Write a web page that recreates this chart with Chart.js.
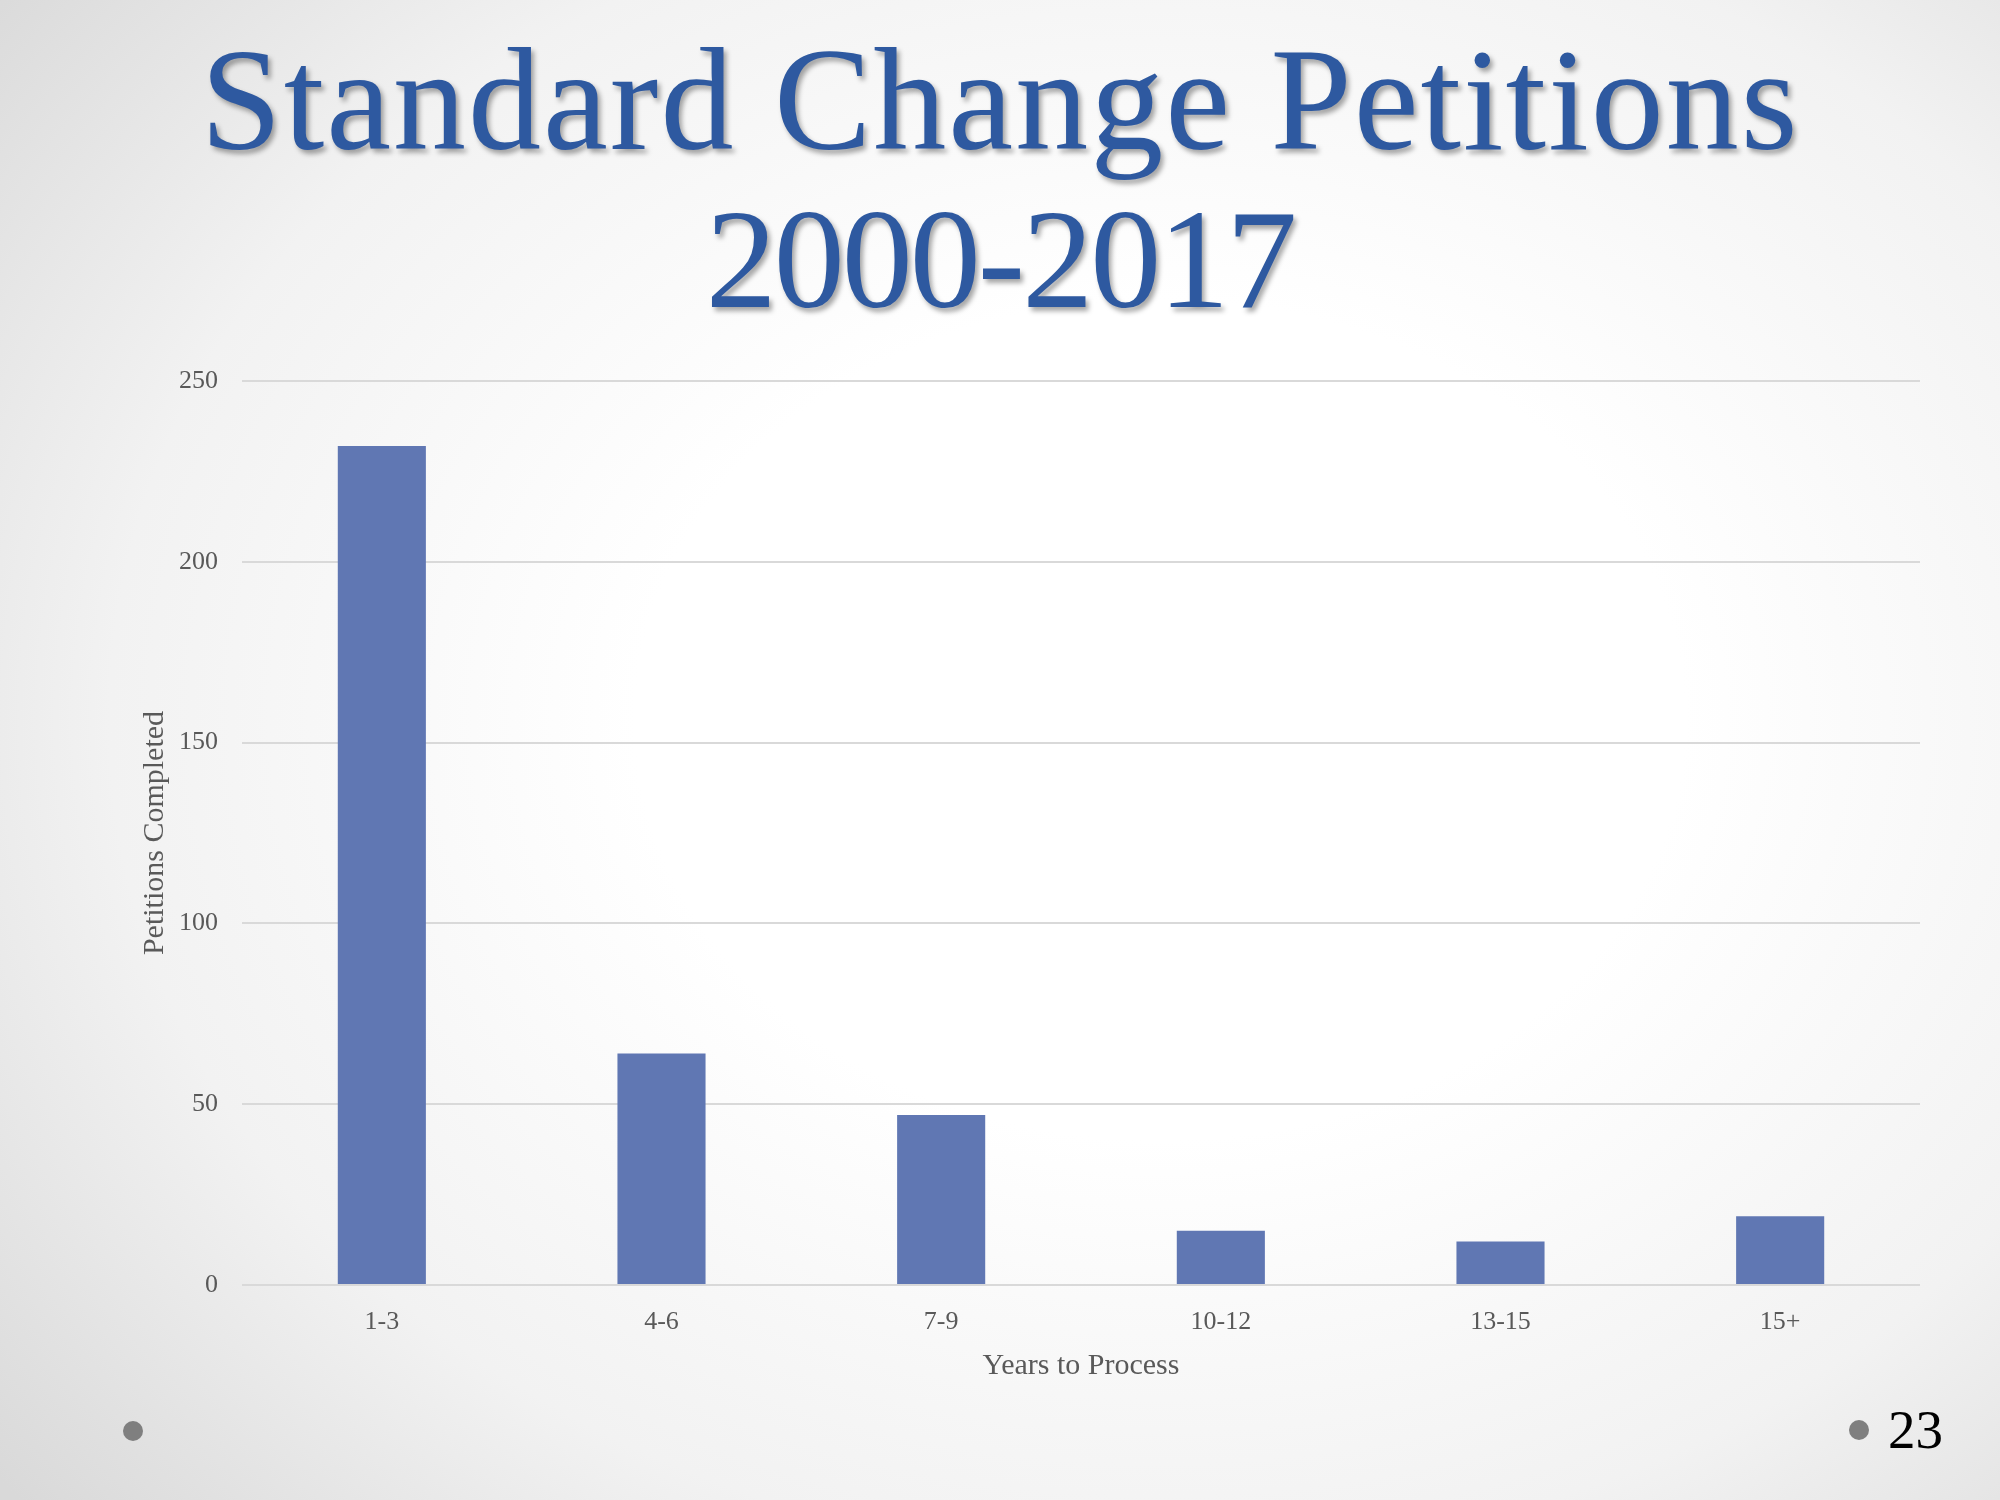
<!DOCTYPE html>
<html>
<head>
<meta charset="utf-8">
<script src="https://cdn.jsdelivr.net/npm/chart.js@4.4.1/dist/chart.umd.min.js"></script>
<style>
  html, body { margin: 0; padding: 0; }
  body {
    width: 2000px; height: 1500px; overflow: hidden; position: relative;
    background: radial-gradient(ellipse 75% 80% at 58% 48%, #ffffff 35%, #f2f2f2 70%, #d9d9d9 100%);
    font-family: "Liberation Serif", serif;
  }
  .title {
    position: absolute; left: 0; width: 2000px;
    text-align: center; color: #2e59a0; white-space: nowrap;
    text-shadow: 3px 4px 5px rgba(0,0,0,0.35);
  }
  #t1 { top: 27px; font-size: 146px; line-height: 146px; letter-spacing: 2px; }
  #t2 { top: 188px; font-size: 142px; line-height: 142px; letter-spacing: -3px; }
  #wrap { position: absolute; left: 0; top: 0; width: 2000px; height: 1500px; }
  .dot { position: absolute; width: 20px; height: 20px; border-radius: 50%; background: #7f7f7f; }
  #num { position: absolute; left: 1888px; top: 1402px; font-size: 55px; line-height: 55px; color: #000; }
</style>
</head>
<body>
<div class="title" id="t1">Standard Change Petitions</div>
<div class="title" id="t2">2000-2017</div>
<div id="wrap"><canvas id="myChart" width="2000" height="1500"></canvas></div>
<div class="dot" style="left:123px; top:1421px;"></div>
<div class="dot" style="left:1849px; top:1420px;"></div>
<div id="num">23</div>
<script>
// data
var categories = ["1-3", "4-6", "7-9", "10-12", "13-15", "15+"];
var petitions = [232, 64, 47, 15, 12, 19];
var yMax = 250;
var yStep = 50;
var xTitle = "Years to Process";
var yTitle = "Petitions Completed";

Chart.defaults.font.family = "'Liberation Serif', serif";
Chart.defaults.color = "#595959";

new Chart("myChart", {
  type: "bar",
  data: {
    labels: categories,
    datasets: [
      {
        data: petitions,
        backgroundColor: "#6077b3",
        barPercentage: 0.315,
        categoryPercentage: 1,
      },
    ],
  },
  options: {
    responsive: false,
    animation: false,
    layout: { padding: { top: 381, right: 80, left: 100, bottom: 100 } },
    plugins: {
      legend: { display: false },
      tooltip: { enabled: false },
    },
    scales: {
      x: {
        grid: { display: false },
        border: { display: false },
        ticks: { font: { size: 26 }, padding: 14, color: "#595959" },
        title: { display: true, text: xTitle, font: { size: 30 }, color: "#595959", padding: 16 },
        afterFit: function (s) { s.height = 115; },
      },
      y: {
        min: 0,
        max: yMax,
        ticks: { stepSize: yStep, font: { size: 26 }, padding: 24, color: "#595959" },
        grid: { color: "#d9d9d9", lineWidth: 2, drawTicks: false },
        border: { display: false },
        title: { display: true, text: yTitle, font: { size: 30 }, color: "#595959", padding: 37 },
        afterFit: function (s) { s.width = 142; },
      },
    },
  },
});
</script>
</body>
</html>
